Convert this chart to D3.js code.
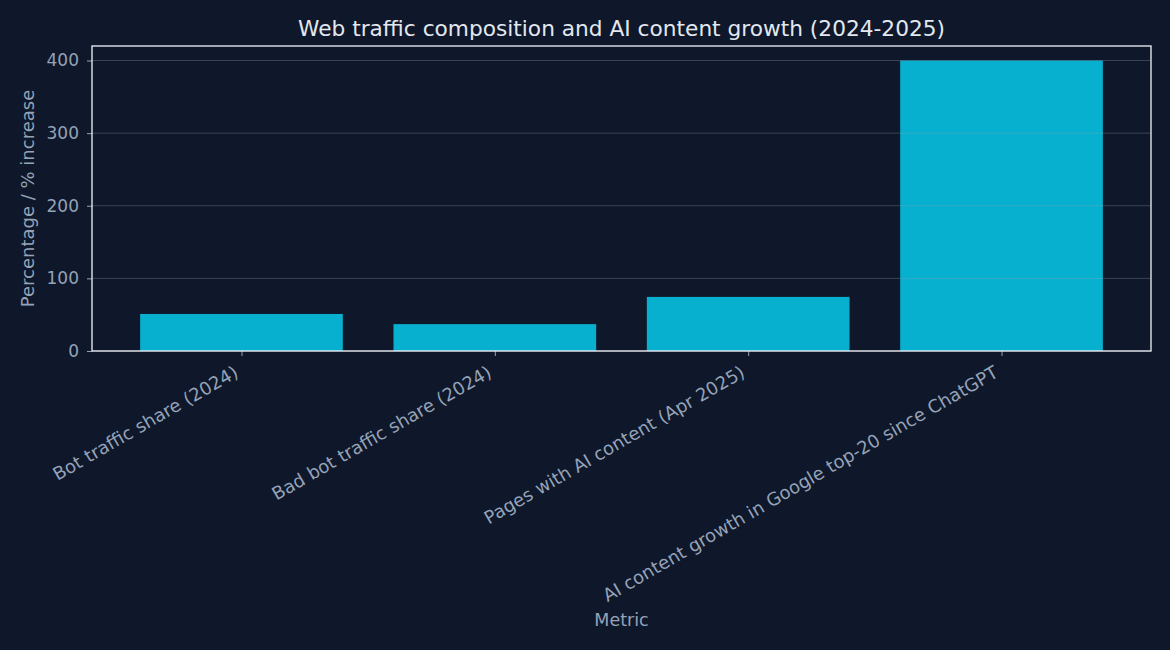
<!DOCTYPE html>
<html><head><meta charset="utf-8">
<script src="https://cdn.jsdelivr.net/npm/d3@7"></script>
<style>
html,body{margin:0;padding:0;background:#0f172a;}
svg{display:block;}
text{font-family:"DejaVu Sans",sans-serif;}
</style></head>
<body>
<svg id="chart" width="1170" height="650"></svg>
<script>
const categories = ["Bot traffic share (2024)", "Bad bot traffic share (2024)", "Pages with AI content (Apr 2025)", "AI content growth in Google top-20 since ChatGPT"];
const values = [51, 37, 74.5, 400];
const yTicks = [0, 100, 200, 300, 400];
const titleText = "Web traffic composition and AI content growth (2024-2025)";
const xLabel = "Metric";
const yLabel = "Percentage / % increase";

const W = 1170, H = 650;
const m = {left: 92, right: 1151, top: 46, bottom: 351};
const svg = d3.select("#chart");
svg.append("rect").attr("width", W).attr("height", H).attr("fill", "#0f172a");

const x = d3.scaleLinear().domain([-0.59, categories.length - 1 + 0.59]).range([m.left, m.right]);
const y = d3.scaleLinear().domain([0, 420]).range([m.bottom, m.top]);
const bw = 0.8;

// bars
svg.append("g").selectAll("rect").data(values).join("rect")
  .attr("x", (d, i) => x(i - bw / 2))
  .attr("width", (d, i) => x(i + bw / 2) - x(i - bw / 2))
  .attr("y", d => y(d))
  .attr("height", d => y(0) - y(d))
  .attr("fill", "#06b6d4").attr("opacity", 0.97);

// grid
svg.append("g").selectAll("line").data(yTicks).join("line")
  .attr("x1", m.left).attr("x2", m.right)
  .attr("y1", d => y(d)).attr("y2", d => y(d))
  .attr("stroke", "#94a3b8").attr("stroke-opacity", 0.32).attr("stroke-width", 1);

// y axis ticks + labels
const yg = svg.append("g").attr("transform", `translate(${m.left},0)`)
  .call(d3.axisLeft(y).tickValues(yTicks).tickSize(5).tickPadding(8).tickFormat(d3.format("d")));
yg.select(".domain").remove();
yg.selectAll("line").attr("stroke", "#94a3b8");
yg.selectAll("text").attr("fill", "#94a3b8").attr("font-size", "17px").attr("font-family", "DejaVu Sans");

// x axis ticks
const xg = svg.append("g").attr("transform", `translate(0,${m.bottom})`)
  .call(d3.axisBottom(x).tickValues(d3.range(categories.length)).tickSize(5).tickFormat(""));
xg.select(".domain").remove();
xg.selectAll("line").attr("stroke", "#94a3b8");

// rotated x labels
svg.append("g").selectAll("text").data(categories).join("text")
  .attr("transform", (d, i) => `translate(${x(i) - 2},${m.bottom + 25}) rotate(-30)`)
  .attr("text-anchor", "end")
  .attr("fill", "#94a3b8").attr("font-size", "18px")
  .text(d => d);

// spines
svg.append("rect").attr("x", m.left).attr("y", m.top)
  .attr("width", m.right - m.left).attr("height", m.bottom - m.top)
  .attr("fill", "none").attr("stroke", "#f1f5f9").attr("stroke-width", 1.3);

// title
svg.append("text").attr("x", (m.left + m.right) / 2).attr("y", 36)
  .attr("text-anchor", "middle").attr("fill", "#e2e8f0").attr("font-size", "21.7px")
  .text(titleText);

// axis labels
svg.append("text").attr("x", (m.left + m.right) / 2).attr("y", 626)
  .attr("text-anchor", "middle").attr("fill", "#94a3b8").attr("font-size", "17.5px")
  .text(xLabel);
svg.append("text").attr("transform", `translate(34,${(m.top + m.bottom) / 2}) rotate(-90)`)
  .attr("text-anchor", "middle").attr("fill", "#94a3b8").attr("font-size", "18px")
  .text(yLabel);
</script>
</body></html>
